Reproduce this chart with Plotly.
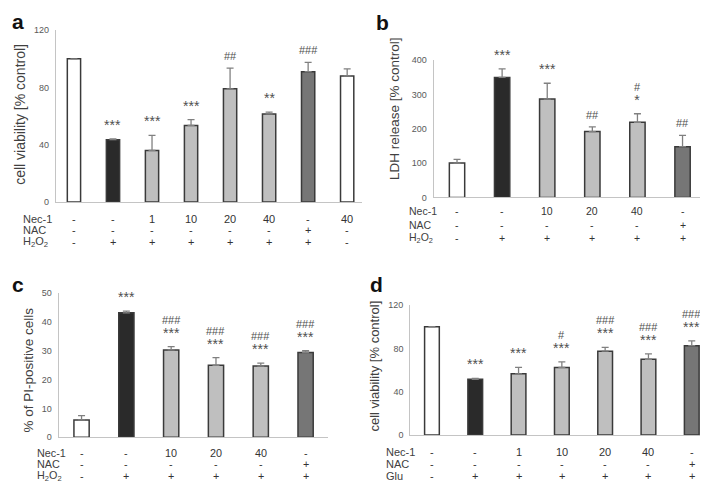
import plotly.graph_objects as go
import math

FONT = "Liberation Sans, Arial, sans-serif"
W, H = 708, 482

# ---------------- data ----------------
# panel a
a_vals = [100, 43.5, 36, 53.5, 79, 61.5, 91, 88]
a_err = [math.nan, 0.5, 10.5, 4, 14.5, 1.3, 6.5, 5]
a_sig = ["", "***", "***", "***", "##", "**", "###", ""]
a_group = ["ctrl", "toxin", "nec", "nec", "nec", "nec", "nac", "ctrl"]
a_nec = ["-", "-", "1", "10", "20", "40", "-", "40"]
a_nac = ["-", "-", "-", "-", "-", "-", "+", "-"]
a_tox = ["-", "+", "+", "+", "+", "+", "+", "-"]

# panel b
b_vals = [100, 350, 287, 192, 219, 148]
b_err = [11, 25, 46, 14, 25, 33]
b_sig = ["", "***", "***", "##", "#\n*", "##"]
b_group = ["ctrl", "toxin", "nec", "nec", "nec", "nac"]
b_nec = ["-", "-", "10", "20", "40", "-"]
b_nac = ["-", "-", "-", "-", "-", "+"]
b_tox = ["-", "+", "+", "+", "+", "+"]

# panel c
c_vals = [6, 43, 30.2, 24.9, 24.6, 29.3]
c_err = [1.5, 0.6, 1.1, 2.6, 1.0, 0.6]
c_sig = ["", "***", "###\n***", "###\n***", "###\n***", "###\n***"]
c_group = ["ctrl", "toxin", "nec", "nec", "nec", "nac"]
c_nec = ["-", "-", "10", "20", "40", "-"]
c_nac = ["-", "-", "-", "-", "-", "+"]
c_tox = ["-", "+", "+", "+", "+", "+"]

# panel d
d_vals = [100, 51.5, 56.5, 62.5, 77.5, 70, 82.5]
d_err = [math.nan, 0.8, 6, 5, 3.5, 5, 4.5]
d_sig = ["", "***", "***", "#\n***", "###\n***", "###\n***", "###\n***"]
d_group = ["ctrl", "toxin", "nec", "nec", "nec", "nec", "nac"]
d_nec = ["-", "-", "1", "10", "20", "40", "-"]
d_nac = ["-", "-", "-", "-", "-", "-", "+"]
d_tox = ["-", "+", "+", "+", "+", "+", "+"]

row_names_h2o2 = ["Nec-1", "NAC", "H<sub>2</sub>O<sub>2</sub>"]
row_names_glu = ["Nec-1", "NAC", "Glu"]

# ---------------- styling ----------------
FILL = {"ctrl": "#ffffff", "toxin": "#2a2a2a", "nec": "#bfbfbf", "nac": "#767676"}
OUTLINE = "#3a3a3a"
ERRC = "#808080"
AXC = "#c4c4c4"
TXT = "#595959"
TXT2 = "#404040"


def px_x(p):
    return p / W


def px_y(p):
    return 1 - p / H


def fmt_sig(s):
    out = []
    for line in s.split("\n"):
        if "*" in line:
            out.append('<span style="font-size:14px">' + line + "</span>")
        else:
            out.append(line)
    return "<br>".join(out)


panels = [
    dict(vals=a_vals, err=a_err, sig=a_sig, group=a_group,
         rows=[a_nec, a_nac, a_tox], rownames=row_names_h2o2,
         xdom=[48, 354], ypx0=193, ypx1=17.5, yr=[0, 120], ytick=[0, 40, 80, 120],
         xr=[-0.46, 7.38], title="cell viability [% control]", tsize=14,
         tx=12, ty=104, rowx=13, rowy=[210, 221.5, 233.5], rfs=11,
         letter="a", lx=2, ly=9),
    dict(vals=b_vals, err=b_err, sig=b_sig, group=b_group,
         rows=[b_nec, b_nac, b_tox], rownames=row_names_h2o2,
         xdom=[425.7, 700.7], ypx0=188.3, ypx1=48.3, yr=[0, 400], ytick=[0, 100, 200, 300, 400],
         xr=[-0.517, 5.58], title="LDH release [% control]", tsize=13.5,
         tx=387, ty=98, rowx=399, rowy=[202.7, 216, 229.3], rfs=10.5,
         letter="b", lx=366, ly=10),
    dict(vals=c_vals, err=c_err, sig=c_sig, group=c_group,
         rows=[c_nec, c_nac, c_tox], rownames=row_names_h2o2,
         xdom=[50.7, 320], ypx0=433.3, ypx1=285.5, yr=[0, 50], ytick=[0, 10, 20, 30, 40, 50],
         xr=[-0.51, 5.5], title="% of PI-positive cells", tsize=13.5,
         tx=20, ty=365, rowx=26.7, rowy=[449, 461, 473.2], rfs=10.8,
         letter="c", lx=2, ly=277.5),
    dict(vals=d_vals, err=d_err, sig=d_sig, group=d_group,
         rows=[d_nec, d_nac, d_tox], rownames=row_names_glu,
         xdom=[402.3, 708], ypx0=431, ypx1=298.3, yr=[0, 120], ytick=[0, 40, 80, 120],
         xr=[-0.5, 6.56], title="cell viability [% control]", tsize=13,
         tx=367, ty=361, rowx=375.7, rowy=[448.3, 461, 473.3], rfs=11,
         letter="d", lx=360, ly=277),
]

fig = go.Figure()
annotations = []
layout = {}

for i, p in enumerate(panels):
    n = i + 1
    xa = "x" if n == 1 else f"x{n}"
    ya = "y" if n == 1 else f"y{n}"
    xkey = "xaxis" if n == 1 else f"xaxis{n}"
    ykey = "yaxis" if n == 1 else f"yaxis{n}"
    cats = list(range(len(p["vals"])))
    fig.add_trace(go.Bar(
        x=cats, y=p["vals"], xaxis=xa, yaxis=ya, width=0.34,
        marker=dict(color=[FILL[g] for g in p["group"]],
                    line=dict(color=OUTLINE, width=1.5)),
        error_y=dict(type="data", array=p["err"], arrayminus=[0] * len(cats),
                     symmetric=False, color=ERRC, thickness=1.3, width=3.5),
        showlegend=False, hoverinfo="skip",
    ))
    layout[xkey] = dict(domain=[px_x(p["xdom"][0]), px_x(p["xdom"][1])], range=p["xr"],
                        anchor=ya, showticklabels=False, showline=True, linecolor=AXC,
                        linewidth=1.2, showgrid=False, zeroline=False, ticks="")
    layout[ykey] = dict(domain=[px_y(p["ypx0"]), px_y(p["ypx1"])], range=p["yr"],
                        anchor=xa, tickvals=p["ytick"], showline=True, linecolor=AXC,
                        linewidth=1.2, showgrid=False, zeroline=False, ticks="",
                        ticklabelstandoff=4,
                        tickfont=dict(family=FONT, size=9, color=TXT))
    # significance labels
    for c, (v, e, s) in enumerate(zip(p["vals"], p["err"], p["sig"])):
        if not s:
            continue
        top = v + (0 if math.isnan(e) else e)
        annotations.append(dict(x=c, y=top, xref=xa, yref=ya, text=fmt_sig(s), showarrow=False,
                                yanchor="bottom", yshift=4,
                                font=dict(family=FONT, size=11, color="#505050")))
    # y title
    annotations.append(dict(x=px_x(p["tx"]), y=px_y(p["ty"]), xref="paper", yref="paper",
                            text=p["title"], textangle=-90, showarrow=False,
                            xanchor="center", yanchor="middle",
                            font=dict(family=FONT, size=p["tsize"], color=TXT2)))
    # treatment table
    for r, (rname, rvals) in enumerate(zip(p["rownames"], p["rows"])):
        yy = px_y(p["rowy"][r])
        annotations.append(dict(x=px_x(p["rowx"]), y=yy, xref="paper", yref="paper",
                                text=rname, showarrow=False, xanchor="left", yanchor="middle",
                                font=dict(family=FONT, size=p["rfs"], color=TXT2)))
        for c, t in enumerate(rvals):
            annotations.append(dict(x=c, y=yy, xref=xa, yref="paper", text=t,
                                    showarrow=False, xanchor="center", yanchor="middle",
                                    font=dict(family=FONT, size=p["rfs"], color="#333333")))
    # panel letter
    annotations.append(dict(x=px_x(p["lx"]), y=px_y(p["ly"]), xref="paper", yref="paper",
                            text="<b>" + p["letter"] + "</b>", showarrow=False,
                            xanchor="left", yanchor="middle",
                            font=dict(family=FONT, size=21, color="#111111")))

fig.update_layout(
    width=W, height=H, margin=dict(l=0, r=0, t=0, b=0),
    paper_bgcolor="white", plot_bgcolor="white",
    annotations=annotations, bargap=0.6,
    **layout,
)

fig.write_html("out.html")
